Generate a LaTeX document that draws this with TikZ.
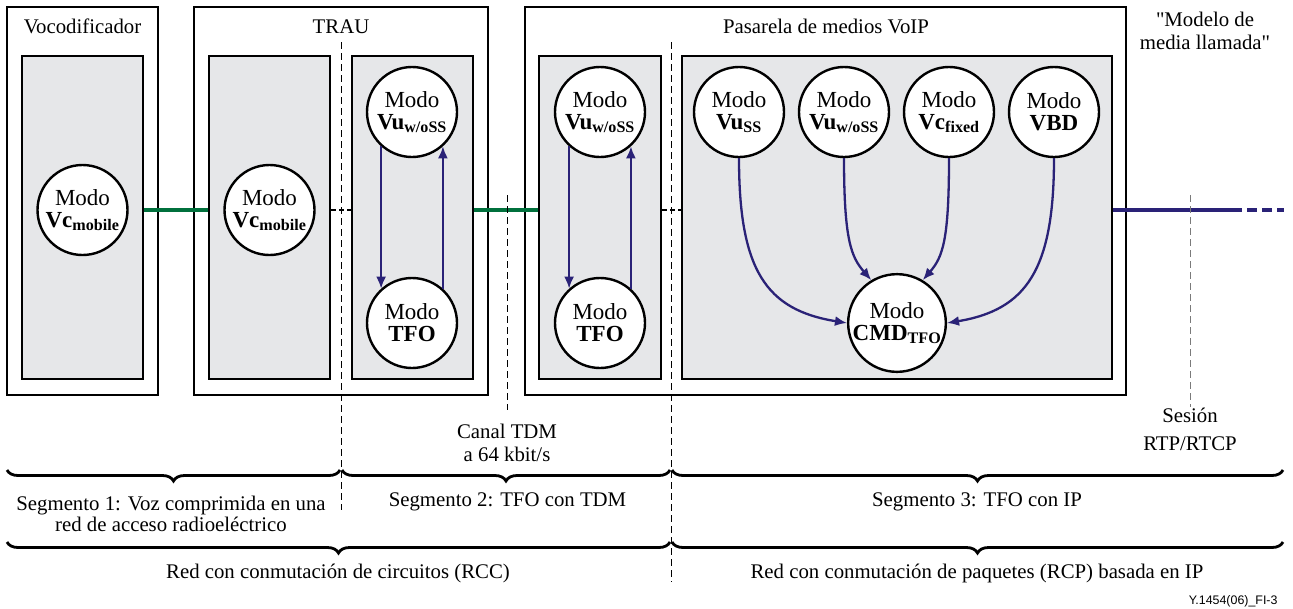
\documentclass[tikz,border=0pt]{standalone}
\usepackage{fontspec}
\setmainfont{Liberation Serif}
\newfontfamily\figsans{Liberation Sans}
\usepackage{tikz}
\usetikzlibrary{arrows.meta,decorations.pathreplacing}
\definecolor{linkgreen}{HTML}{00703C}
\definecolor{ipblue}{HTML}{2A2277}
\definecolor{panelgray}{HTML}{E6E7E9}
\definecolor{sessiongray}{HTML}{7A7A7A}

\begin{document}
\begin{tikzpicture}[x=1pt,y=-1pt,font=\fontsize{20.8}{23}\selectfont,
    box/.style={draw,line width=2.6pt,inner sep=0pt,minimum height=388pt},
    panel/.style={draw,line width=2.6pt,fill=panelgray,inner sep=0pt,minimum height=323pt},
    mode/.style={circle,draw,line width=2.4pt,fill=white,minimum size=90pt,
      inner sep=0pt,align=center,font=\fontsize{23}{22}\selectfont},
    flow/.style={ipblue,line width=2.3pt,-{Latex[length=12pt,width=10pt]}},
    greenlink/.style={linkgreen,line width=4pt},
    stub/.style={line width=1.3pt,dash pattern=on 5pt off 3pt},
    divider/.style={line width=0.8pt,dash pattern=on 7pt off 4pt},
    segbrace/.style={decorate,decoration={brace,mirror,amplitude=11pt},line width=2.8pt}]
  \useasboundingbox (0,0) rectangle (1293,608);

  % equipment boxes
  \node[box,minimum width=151pt] (vocbox) at (82.5,201) {};
  \node[box,minimum width=294pt] (traubox) at (341,201) {};
  \node[box,minimum width=601pt] (gwbox) at (825.5,201) {};
  \node[anchor=base] (voctitle) at (82.5,33) {Vocodificador};
  \node[anchor=base] (trautitle) at (341,33) {TRAU};
  \node[anchor=base] (gwtitle) at (826,33) {Pasarela de medios VoIP};
  \node[align=center] (calltitle) at (1205,30.5)
    {\textquotedbl Modelo de\\media llamada\textquotedbl};

  % grey panels
  \node[panel,minimum width=121pt] (vocpanel) at (82.5,217.5) {};
  \node[panel,minimum width=121pt] (trauleft) at (269.5,217.5) {};
  \node[panel,minimum width=121pt] (trauright) at (412.5,217.5) {};
  \node[panel,minimum width=122pt] (gwleft) at (600,217.5) {};
  \node[panel,minimum width=430pt] (gwright) at (897,217.5) {};

  % modes
  \node[mode] (vocvc) at (82.5,210) {Modo\\\textbf{Vc\textsubscript{mobile}}};
  \node[mode] (trauvc) at (269.5,210) {Modo\\\textbf{Vc\textsubscript{mobile}}};
  \foreach \pre/\x in {trau/412,gw/600} {
    \node[mode] (\pre vu) at (\x,112) {Modo\\\textbf{Vu\textsubscript{w/oSS}}};
    \node[mode] (\pre tfo) at (\x,323) {Modo\\\textbf{TFO}};
    \draw[flow] (\pre vu.228) -- (\pre tfo.132);
    \draw[flow] (\pre tfo.48) -- (\pre vu.312);
  }
  \foreach \name/\x/\sub in {vuss/739/Vu\textsubscript{SS},
      vuwoss/844/Vu\textsubscript{w/oSS},vcfixed/949/Vc\textsubscript{fixed},vbd/1054/VBD}
    \node[mode] (\name) at (\x,112) {Modo\\\textbf{\sub}};
  \node[mode] (cmd) at (897,323) {Modo\\\textbf{CMD\textsubscript{TFO}}};
  \draw[flow] (vuss.south) .. controls +(0,112) and +(-81,-13) .. (cmd.west);
  \draw[flow] (vuwoss.south) .. controls +(0,82) and +(-20,-23) .. (cmd.121);
  \draw[flow] (vcfixed.south) .. controls +(0,82) and +(20,-23) .. (cmd.59);
  \draw[flow] (vbd.south) .. controls +(0,112) and +(79,-13) .. (cmd.east);

  % media path
  \draw[greenlink] (vocpanel.east |- vocvc) -- (trauleft.west |- vocvc);
  \draw[stub] (trauleft.east |- trauvc) -- (trauright.west |- trauvc);
  \draw[greenlink] (trauright.east |- trauvc) -- (gwleft.west |- trauvc);
  \draw[stub] (gwleft.east |- trauvc) -- (gwright.west |- trauvc);
  \coordinate (rtpend) at (1242,210);
  \coordinate (rtpopen) at (1284,210);
  \draw[ipblue,line width=4.5pt] (gwright.east |- rtpend) -- (rtpend);
  \draw[ipblue,line width=4.5pt,dash pattern=on 10pt off 5pt,dash phase=10pt]
    (rtpend) -- (rtpopen);

  % segment borders
  \draw[divider] (341,42) -- (341,510);
  \draw[divider] (507,195) -- (507,410);
  \draw[divider] (671,42) -- (671,582);
  \draw[divider,sessiongray] (1190,195) -- (1190,407);
  \node[align=center] (tdm) at (507,442.5) {Canal TDM\\a 64 kbit/s};
  \node[align=center] (rtp) at (1190,429) {Sesión\\[5pt]RTP/RTCP};

  % segments and networks
  \draw[segbrace] (7,470) -- (340,470);
  \draw[segbrace] (342,470) -- (670,470);
  \draw[segbrace] (672,470) -- (1283,470);
  \draw[segbrace] (7,542) -- (670,542);
  \draw[segbrace] (672,542) -- (1283,542);
  \node[align=center] (seg1) at (171,514) {Segmento 1: Voz comprimida en una\\[-2pt]red de acceso radioeléctrico};
  \node[anchor=base] (seg2) at (507.5,506.7) {Segmento 2: TFO con TDM};
  \node[anchor=base] (seg3) at (977,506.7) {Segmento 3: TFO con IP};
  \node[anchor=base] (rcc) at (338,578) {Red con conmutación de circuitos (RCC)};
  \node[anchor=base] (rcp) at (977,578) {Red con conmutación de paquetes (RCP) basada en IP};
  \node[anchor=base east,font=\figsans\fontsize{12.4}{14}\selectfont] (figid) at (1281,604) {Y.1454(06)\_FI-3};
\end{tikzpicture}
\end{document}
